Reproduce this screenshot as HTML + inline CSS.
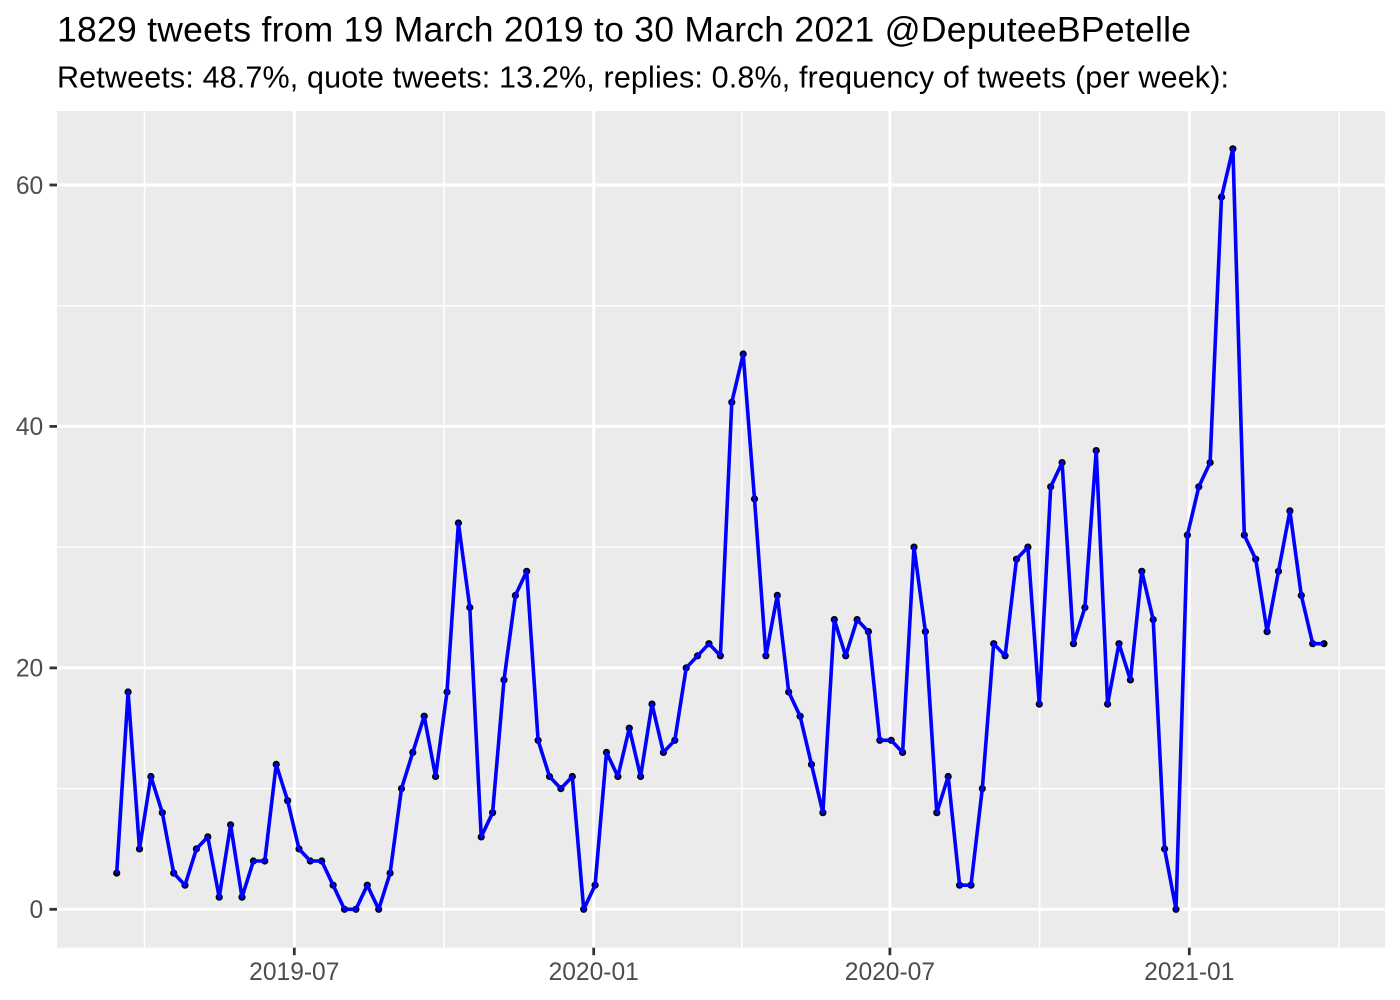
<!DOCTYPE html>
<html>
<head>
<meta charset="utf-8">
<style>
html,body{margin:0;padding:0;background:#fff;}
svg{display:block;}
text{font-family:"Liberation Sans",Arial,sans-serif;}
</style>
</head>
<body>
<svg width="1400" height="1000" viewBox="0 0 1400 1000" xmlns="http://www.w3.org/2000/svg">
<rect x="0" y="0" width="1400" height="1000" fill="#ffffff"/>
<text x="57" y="41.7" font-size="35.5" fill="#000" textLength="1134" lengthAdjust="spacing">1829 tweets from 19 March 2019 to 30 March 2021 @DeputeeBPetelle</text>
<text x="57" y="87.3" font-size="30.5" fill="#000" textLength="1172" lengthAdjust="spacing">Retweets: 48.7%, quote tweets: 13.2%, replies: 0.8%, frequency of tweets (per week):</text>

<!-- panel -->
<rect x="57" y="111" width="1328" height="836.7" fill="#EBEBEB"/>
<g stroke="#ffffff" fill="none">
  <g stroke-width="1.5">
    <line x1="57" x2="1385" y1="788.6" y2="788.6"/>
    <line x1="57" x2="1385" y1="547.1" y2="547.1"/>
    <line x1="57" x2="1385" y1="305.7" y2="305.7"/>
    <line y1="111" y2="947.7" x1="144.5" x2="144.5"/>
    <line y1="111" y2="947.7" x1="444" x2="444"/>
    <line y1="111" y2="947.7" x1="741.8" x2="741.8"/>
    <line y1="111" y2="947.7" x1="1039.6" x2="1039.6"/>
    <line y1="111" y2="947.7" x1="1339.2" x2="1339.2"/>
  </g>
  <g stroke-width="3">
    <line x1="57" x2="1385" y1="909.3" y2="909.3"/>
    <line x1="57" x2="1385" y1="667.9" y2="667.9"/>
    <line x1="57" x2="1385" y1="426.4" y2="426.4"/>
    <line x1="57" x2="1385" y1="185" y2="185"/>
    <line y1="111" y2="947.7" x1="294.3" x2="294.3"/>
    <line y1="111" y2="947.7" x1="593.7" x2="593.7"/>
    <line y1="111" y2="947.7" x1="889.9" x2="889.9"/>
    <line y1="111" y2="947.7" x1="1189.3" x2="1189.3"/>
  </g>
</g>

<defs>
  <marker id="dot" markerUnits="userSpaceOnUse" markerWidth="10" markerHeight="10" refX="5" refY="5" viewBox="0 0 10 10" overflow="visible">
    <circle cx="5" cy="5" r="3.6" fill="#000"/>
  </marker>
</defs>

<polyline fill="none" stroke="none" marker-start="url(#dot)" marker-mid="url(#dot)" marker-end="url(#dot)" points="116.7,873.1 128.1,692.0 139.5,848.9 150.9,776.5 162.3,812.7 173.7,873.1 185.0,885.2 196.4,848.9 207.8,836.9 219.2,897.2 230.6,824.8 242.0,897.2 253.4,861.0 264.8,861.0 276.2,764.4 287.6,800.7 299.0,848.9 310.3,861.0 321.7,861.0 333.1,885.2 344.5,909.3 355.9,909.3 367.3,885.2 378.7,909.3 390.1,873.1 401.5,788.6 412.8,752.4 424.2,716.2 435.6,776.5 447.0,692.0 458.4,523.0 469.8,607.5 481.2,836.9 492.6,812.7 504.0,679.9 515.4,595.4 526.7,571.3 538.1,740.3 549.5,776.5 560.9,788.6 572.3,776.5 583.7,909.3 595.1,885.2 606.5,752.4 617.9,776.5 629.3,728.2 640.6,776.5 652.0,704.1 663.4,752.4 674.8,740.3 686.2,667.9 697.6,655.8 709.0,643.7 720.4,655.8 731.8,402.3 743.2,354.0 754.5,498.9 765.9,655.8 777.3,595.4 788.7,692.0 800.1,716.2 811.5,764.4 822.9,812.7 834.3,619.6 845.7,655.8 857.1,619.6 868.4,631.6 879.8,740.3 891.2,740.3 902.6,752.4 914.0,547.1 925.4,631.6 936.8,812.7 948.2,776.5 959.6,885.2 971.0,885.2 982.3,788.6 993.7,643.7 1005.1,655.8 1016.5,559.2 1027.9,547.1 1039.3,704.1 1050.7,486.8 1062.1,462.6 1073.5,643.7 1084.9,607.5 1096.2,450.6 1107.6,704.1 1119.0,643.7 1130.4,679.9 1141.8,571.3 1153.2,619.6 1164.6,848.9 1176.0,909.3 1187.4,535.1 1198.8,486.8 1210.1,462.6 1221.5,197.1 1232.9,148.8 1244.3,535.1 1255.7,559.2 1267.1,631.6 1278.5,571.3 1289.9,510.9 1301.3,595.4 1312.7,643.7 1324.0,643.7"/>

<polyline fill="none" stroke="#0000FF" stroke-width="3.6" stroke-linejoin="round" stroke-linecap="butt" points="116.7,873.1 128.1,692.0 139.5,848.9 150.9,776.5 162.3,812.7 173.7,873.1 185.0,885.2 196.4,848.9 207.8,836.9 219.2,897.2 230.6,824.8 242.0,897.2 253.4,861.0 264.8,861.0 276.2,764.4 287.6,800.7 299.0,848.9 310.3,861.0 321.7,861.0 333.1,885.2 344.5,909.3 355.9,909.3 367.3,885.2 378.7,909.3 390.1,873.1 401.5,788.6 412.8,752.4 424.2,716.2 435.6,776.5 447.0,692.0 458.4,523.0 469.8,607.5 481.2,836.9 492.6,812.7 504.0,679.9 515.4,595.4 526.7,571.3 538.1,740.3 549.5,776.5 560.9,788.6 572.3,776.5 583.7,909.3 595.1,885.2 606.5,752.4 617.9,776.5 629.3,728.2 640.6,776.5 652.0,704.1 663.4,752.4 674.8,740.3 686.2,667.9 697.6,655.8 709.0,643.7 720.4,655.8 731.8,402.3 743.2,354.0 754.5,498.9 765.9,655.8 777.3,595.4 788.7,692.0 800.1,716.2 811.5,764.4 822.9,812.7 834.3,619.6 845.7,655.8 857.1,619.6 868.4,631.6 879.8,740.3 891.2,740.3 902.6,752.4 914.0,547.1 925.4,631.6 936.8,812.7 948.2,776.5 959.6,885.2 971.0,885.2 982.3,788.6 993.7,643.7 1005.1,655.8 1016.5,559.2 1027.9,547.1 1039.3,704.1 1050.7,486.8 1062.1,462.6 1073.5,643.7 1084.9,607.5 1096.2,450.6 1107.6,704.1 1119.0,643.7 1130.4,679.9 1141.8,571.3 1153.2,619.6 1164.6,848.9 1176.0,909.3 1187.4,535.1 1198.8,486.8 1210.1,462.6 1221.5,197.1 1232.9,148.8 1244.3,535.1 1255.7,559.2 1267.1,631.6 1278.5,571.3 1289.9,510.9 1301.3,595.4 1312.7,643.7 1324.0,643.7"/>

<g stroke="#333333" stroke-width="2.8">
  <line x1="49.5" x2="57" y1="909.3" y2="909.3"/>
  <line x1="49.5" x2="57" y1="667.9" y2="667.9"/>
  <line x1="49.5" x2="57" y1="426.4" y2="426.4"/>
  <line x1="49.5" x2="57" y1="185" y2="185"/>
  <line y1="947.7" y2="955.2" x1="294.3" x2="294.3"/>
  <line y1="947.7" y2="955.2" x1="593.7" x2="593.7"/>
  <line y1="947.7" y2="955.2" x1="889.9" x2="889.9"/>
  <line y1="947.7" y2="955.2" x1="1189.3" x2="1189.3"/>
</g>

<g fill="#4D4D4D" font-size="24.6">
  <text x="43.2" y="918.1" text-anchor="end">0</text>
  <text x="43.2" y="676.7" text-anchor="end">20</text>
  <text x="43.2" y="435.2" text-anchor="end">40</text>
  <text x="43.2" y="193.8" text-anchor="end">60</text>
  <text x="294.3" y="980" text-anchor="middle">2019-07</text>
  <text x="593.7" y="980" text-anchor="middle">2020-01</text>
  <text x="889.9" y="980" text-anchor="middle">2020-07</text>
  <text x="1189.3" y="980" text-anchor="middle">2021-01</text>
</g>
</svg>
</body>
</html>
